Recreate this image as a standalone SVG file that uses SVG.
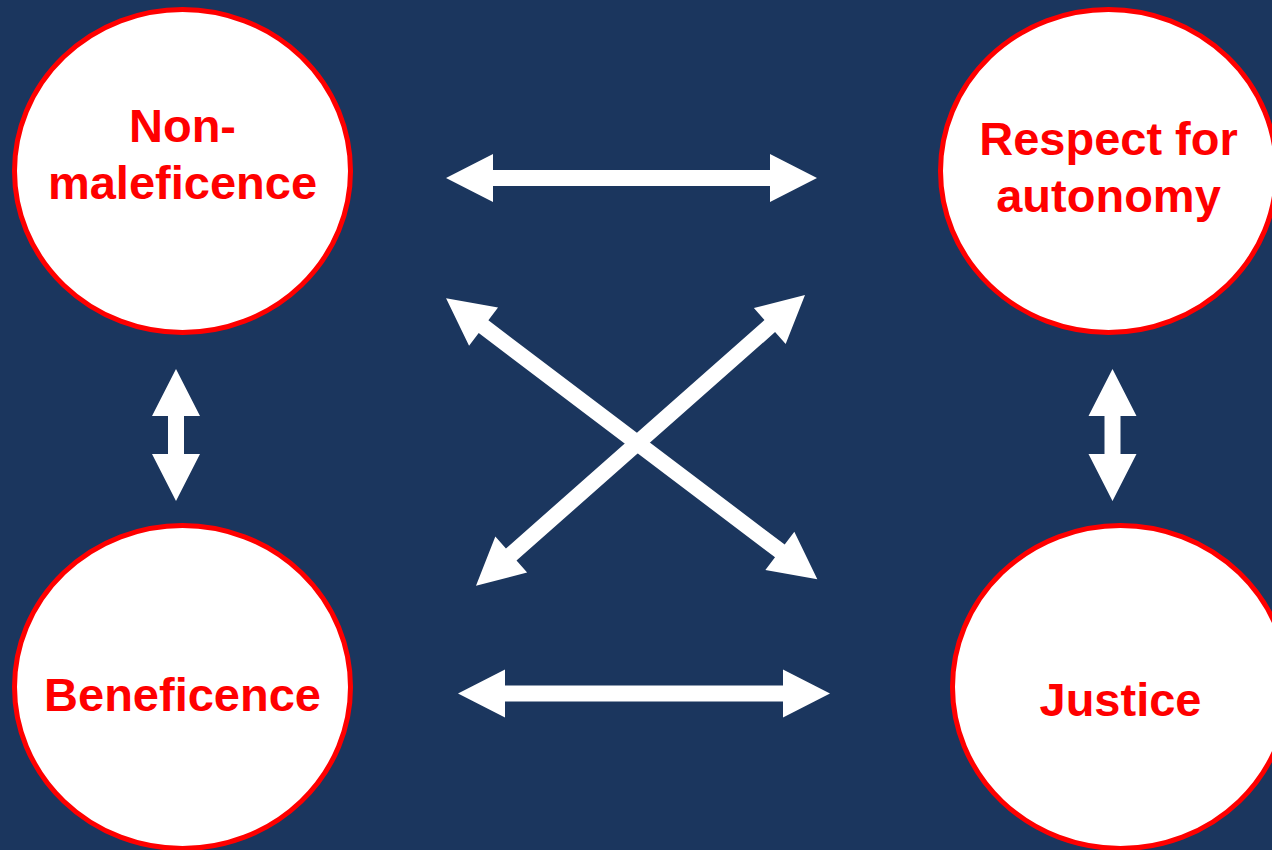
<svg xmlns="http://www.w3.org/2000/svg" width="1272" height="850" viewBox="0 0 1272 850">
  <style>
    .node { fill: #FFFFFF; stroke: #FF0000; stroke-width: 5; }
    .label { font-family: "Liberation Sans", Arial, sans-serif; font-weight: bold; font-size: 47px; fill: #FF0000; text-anchor: middle; }
    .arrow { fill: #FFFFFF; stroke: none; }
  </style>

  <!-- background -->
  <rect x="0" y="0" width="1272" height="850" fill="#1B365E"/>

  <!-- connectors: double-headed block arrows, drawn along x and placed by transform -->
  <g id="connectors">
    <!-- top horizontal -->
    <polygon class="arrow" transform="translate(631.5,178)"
      points="-185.5,0 -138.5,-24 -138.5,-8 138.5,-8 138.5,-24 185.5,0 138.5,24 138.5,8 -138.5,8 -138.5,24"/>
    <!-- bottom horizontal -->
    <polygon class="arrow" transform="translate(644,693.5)"
      points="-186,0 -139,-24 -139,-8 139,-8 139,-24 186,0 139,24 139,8 -139,8 -139,24"/>
    <!-- left vertical -->
    <polygon class="arrow" transform="translate(176,435) rotate(90)"
      points="-66,0 -19,-24 -19,-8 19,-8 19,-24 66,0 19,24 19,8 -19,8 -19,24"/>
    <!-- right vertical -->
    <polygon class="arrow" transform="translate(1112.5,435) rotate(90)"
      points="-66,0 -19,-24 -19,-8 19,-8 19,-24 66,0 19,24 19,8 -19,8 -19,24"/>
    <!-- diagonal: top-left to bottom-right -->
    <polygon class="arrow" transform="translate(631.7,438.8) rotate(37.12)"
      points="-232.8,0 -185.8,-24 -185.8,-8 185.8,-8 185.8,-24 232.8,0 185.8,24 185.8,8 -185.8,8 -185.8,24"/>
    <!-- diagonal: bottom-left to top-right -->
    <polygon class="arrow" transform="translate(640.5,440.3) rotate(-41.46)"
      points="-219.5,0 -172.5,-24 -172.5,-8 172.5,-8 172.5,-24 219.5,0 172.5,24 172.5,8 -172.5,8 -172.5,24"/>
  </g>

  <g id="non-maleficence">
    <ellipse class="node" cx="182.5" cy="171" rx="168" ry="161.5"/>
    <text class="label" x="182.5" y="142">Non-</text>
    <text class="label" x="182.5" y="199">maleficence</text>
  </g>

  <g id="respect-for-autonomy">
    <ellipse class="node" cx="1108.5" cy="171" rx="168" ry="161.5"/>
    <text class="label" x="1108.5" y="155">Respect for</text>
    <text class="label" x="1108.5" y="212">autonomy</text>
  </g>

  <g id="beneficence">
    <ellipse class="node" cx="182.5" cy="687" rx="168" ry="161.5"/>
    <text class="label" x="182.5" y="711">Beneficence</text>
  </g>

  <g id="justice">
    <ellipse class="node" cx="1120.5" cy="687" rx="168" ry="161.5"/>
    <text class="label" x="1120.5" y="716">Justice</text>
  </g>
</svg>
